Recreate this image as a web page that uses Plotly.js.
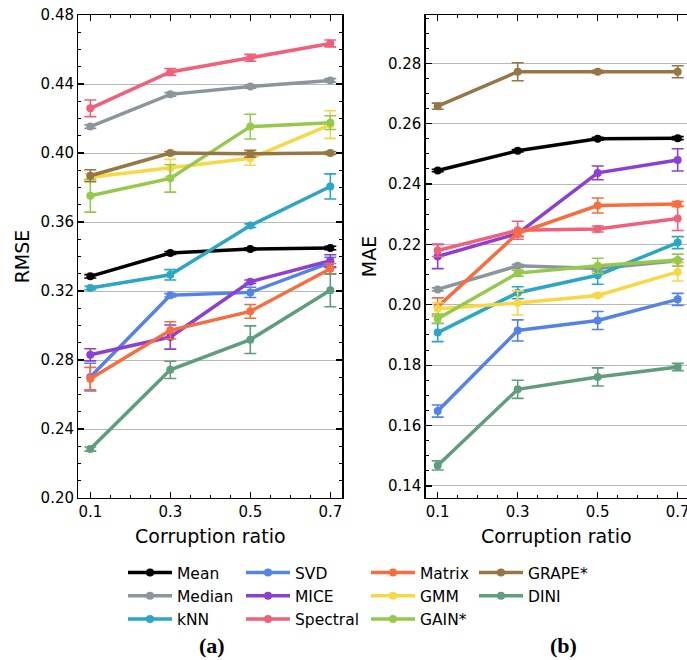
<!DOCTYPE html>
<html><head><meta charset="utf-8">
<script src="https://cdn.plot.ly/plotly-3.0.1.min.js"></script>
<style>html,body{margin:0;padding:0;background:#fff}#chart{width:687px;height:660px}</style>
</head><body><div id="chart"></div>
<script>
const ratios = [0.1, 0.3, 0.5, 0.7];
const methods = ["Mean","Median","kNN","SVD","MICE","Spectral","Matrix","GMM","GAIN*","GRAPE*","DINI"];
const colors = ["#000000","#8a959c","#2aa7c4","#5383e8","#8c3fd2","#f0607a","#fa6c3c","#f7d744","#95c94a","#967642","#5f9e7b"];

// RMSE (panel a)
const rmse_Mean     = [0.3285, 0.3420, 0.3443, 0.3449];
const rmse_Median   = [0.4153, 0.4340, 0.4386, 0.4421];
const rmse_kNN      = [0.3217, 0.3294, 0.3579, 0.3806];
const rmse_SVD      = [0.2701, 0.3175, 0.3192, 0.3365];
const rmse_MICE     = [0.2830, 0.2933, 0.3254, 0.3375];
const rmse_Spectral = [0.4259, 0.4470, 0.4552, 0.4635];
const rmse_Matrix   = [0.2692, 0.2972, 0.3082, 0.3329];
const rmse_GMM      = [0.3860, 0.3913, 0.3969, 0.4165];
const rmse_GAIN     = [0.3752, 0.3853, 0.4153, 0.4176];
const rmse_GRAPE    = [0.3868, 0.4000, 0.3996, 0.4000];
const rmse_DINI     = [0.2284, 0.2743, 0.2918, 0.3204];
// RMSE error bars
const rmseErr_Mean     = [0.0010, 0.0008, 0.0008, 0.0010];
const rmseErr_Median   = [0.0010, 0.0010, 0.0010, 0.0010];
const rmseErr_kNN      = [0.0010, 0.0030, 0.0010, 0.0073];
const rmseErr_SVD      = [0.0080, 0.0010, 0.0030, 0.0030];
const rmseErr_MICE     = [0.0035, 0.0070, 0.0010, 0.0035];
const rmseErr_Spectral = [0.0048, 0.0020, 0.0020, 0.0020];
const rmseErr_Matrix   = [0.0065, 0.0050, 0.0040, 0.0030];
const rmseErr_GMM      = [0.0020, 0.0050, 0.0040, 0.0080];
const rmseErr_GAIN     = [0.0095, 0.0080, 0.0072, 0.0040];
const rmseErr_GRAPE    = [0.0035, 0.0008, 0.0020, 0.0008];
const rmseErr_DINI     = [0.0012, 0.0050, 0.0080, 0.0095];

// MAE (panel b)
const mae_Mean     = [0.2445, 0.2510, 0.2550, 0.2552];
const mae_Median   = [0.2051, 0.2129, 0.2120, 0.2146];
const mae_kNN      = [0.1908, 0.2040, 0.2098, 0.2206];
const mae_SVD      = [0.1648, 0.1915, 0.1948, 0.2018];
const mae_MICE     = [0.2160, 0.2236, 0.2437, 0.2480];
const mae_Spectral = [0.2180, 0.2247, 0.2251, 0.2286];
const mae_Matrix   = [0.1993, 0.2237, 0.2329, 0.2334];
const mae_GMM      = [0.1987, 0.2006, 0.2031, 0.2109];
const mae_GAIN     = [0.1954, 0.2105, 0.2129, 0.2148];
const mae_GRAPE    = [0.2658, 0.2772, 0.2772, 0.2772];
const mae_DINI     = [0.1468, 0.1720, 0.1761, 0.1794];
// MAE error bars
const maeErr_Mean     = [0.0004, 0.0004, 0.0005, 0.0005];
const maeErr_Median   = [0.0005, 0.0005, 0.0008, 0.0005];
const maeErr_kNN      = [0.0030, 0.0020, 0.0030, 0.0020];
const maeErr_SVD      = [0.0020, 0.0035, 0.0030, 0.0020];
const maeErr_MICE     = [0.0040, 0.0010, 0.0023, 0.0037];
const maeErr_Spectral = [0.0020, 0.0030, 0.0010, 0.0040];
const maeErr_Matrix   = [0.0030, 0.0010, 0.0025, 0.0008];
const maeErr_GMM      = [0.0020, 0.0040, 0.0005, 0.0030];
const maeErr_GAIN     = [0.0015, 0.0010, 0.0025, 0.0020];
const maeErr_GRAPE    = [0.0010, 0.0030, 0.0005, 0.0020];
const maeErr_DINI     = [0.0015, 0.0030, 0.0030, 0.0012];

const rmseSeries = [rmse_Mean,rmse_Median,rmse_kNN,rmse_SVD,rmse_MICE,rmse_Spectral,rmse_Matrix,rmse_GMM,rmse_GAIN,rmse_GRAPE,rmse_DINI];
const rmseErrs = [rmseErr_Mean,rmseErr_Median,rmseErr_kNN,rmseErr_SVD,rmseErr_MICE,rmseErr_Spectral,rmseErr_Matrix,rmseErr_GMM,rmseErr_GAIN,rmseErr_GRAPE,rmseErr_DINI];
const maeSeries = [mae_Mean,mae_Median,mae_kNN,mae_SVD,mae_MICE,mae_Spectral,mae_Matrix,mae_GMM,mae_GAIN,mae_GRAPE,mae_DINI];
const maeErrs = [maeErr_Mean,maeErr_Median,maeErr_kNN,maeErr_SVD,maeErr_MICE,maeErr_Spectral,maeErr_Matrix,maeErr_GMM,maeErr_GAIN,maeErr_GRAPE,maeErr_DINI];

const legendOf = ["legend","legend","legend","legend2","legend2","legend2","legend3","legend3","legend3","legend4","legend4"];

const FONT = "DejaVu Sans";
const W = 687, H = 660;
const traces = [];
methods.forEach((m, i) => {
  traces.push({
    x: ratios, y: rmseSeries[i], name: m, type: "scatter", mode: "lines+markers",
    xaxis: "x", yaxis: "y", legend: legendOf[i],
    line: {color: colors[i], width: 3.5},
    marker: {color: colors[i], size: 8},
    error_y: {type: "data", array: rmseErrs[i], visible: true, color: colors[i], thickness: 1.6, width: 6}
  });
});
methods.forEach((m, i) => {
  traces.push({
    x: ratios, y: maeSeries[i], name: m, type: "scatter", mode: "lines+markers",
    xaxis: "x2", yaxis: "y2", showlegend: false,
    line: {color: colors[i], width: 3.5},
    marker: {color: colors[i], size: 8},
    error_y: {type: "data", array: maeErrs[i], visible: true, color: colors[i], thickness: 1.6, width: 6}
  });
});

const yDom = [1 - 498/H, 1 - 15/H];
const commonX = {
  range: [0.07, 0.73], tickvals: ratios, ticktext: ["0.1","0.3","0.5","0.7"],
  ticks: "inside", ticklen: 6, tickwidth: 1.2, tickcolor: "#000",
  showline: true, linecolor: "#000", linewidth: 1.3, mirror: "ticks",
  showgrid: false, zeroline: false, ticklabeloverflow: "allow",
  tickfont: {family: FONT, size: 15, color: "#000"},
  minor: {dtick: 0.05, tick0: 0.1, ticks: "inside", ticklen: 3, tickcolor: "#000", tickwidth: 1, showgrid: false},
  title: {text: "Corruption ratio", font: {family: FONT, size: 19, color: "#000"}, standoff: 9}
};
const layout = {
  width: W, height: H, margin: {l: 0, r: 0, t: 0, b: 0},
  paper_bgcolor: "#fff", plot_bgcolor: "#fff",
  font: {family: FONT, color: "#000"},
  xaxis: Object.assign({}, commonX, {domain: [78.3/W, 342.3/W], anchor: "y"}),
  xaxis2: Object.assign({}, commonX, {domain: [425.7/W, 1], anchor: "y2", range: [0.07, 0.07 + (687-425.7)/400]}),
  yaxis: {
    domain: yDom, anchor: "x", range: [0.20, 0.48], dtick: 0.04, tick0: 0.2, tickformat: ".2f",
    ticks: "inside", ticklen: 6, tickwidth: 1.2, tickcolor: "#000",
    showline: true, linecolor: "#000", linewidth: 1.3, mirror: "ticks",
    showgrid: true, gridcolor: "#b8b8b8", gridwidth: 1, zeroline: false,
    tickfont: {family: FONT, size: 15, color: "#000"},
    minor: {dtick: 0.01, ticks: "inside", ticklen: 3, tickcolor: "#000", tickwidth: 1, showgrid: false},
    title: {text: "RMSE", font: {family: FONT, size: 19, color: "#000"}, standoff: 6}
  },
  yaxis2: {
    domain: yDom, anchor: "x2", range: [0.136, 0.296], dtick: 0.02, tick0: 0.14, tickformat: ".2f",
    ticks: "inside", ticklen: 6, tickwidth: 1.2, tickcolor: "#000",
    showline: true, linecolor: "#000", linewidth: 1.3, mirror: false,
    showgrid: true, gridcolor: "#b8b8b8", gridwidth: 1, zeroline: false,
    tickfont: {family: FONT, size: 15, color: "#000"},
    minor: {dtick: 0.005, ticks: "inside", ticklen: 3, tickcolor: "#000", tickwidth: 1, showgrid: false},
    title: {text: "MAE", font: {family: FONT, size: 19, color: "#000"}, standoff: 6}
  },
  annotations: [
    {text: "<b>(a)</b>", x: 212/W, y: 1 - 645/H, xref: "paper", yref: "paper", showarrow: false,
     xanchor: "center", yanchor: "middle", font: {family: "Liberation Serif", size: 22, color: "#000"}},
    {text: "<b>(b)</b>", x: 563/W, y: 1 - 645/H, xref: "paper", yref: "paper", showarrow: false,
     xanchor: "center", yanchor: "middle", font: {family: "Liberation Serif", size: 22, color: "#000"}}
  ]
};
const legBase = {orientation: "v", xanchor: "left", yanchor: "top", y: 1 - 556/H,
  bgcolor: "rgba(0,0,0,0)", borderwidth: 0, itemwidth: 44,
  font: {family: FONT, size: 15.5, color: "#000"}, tracegroupgap: 0, traceorder: "normal"};
layout.legend  = Object.assign({}, legBase, {x: 123/W});
layout.legend2 = Object.assign({}, legBase, {x: 241/W});
layout.legend3 = Object.assign({}, legBase, {x: 366/W});
layout.legend4 = Object.assign({}, legBase, {x: 474/W});

Plotly.newPlot("chart", traces, layout, {displayModeBar: false, staticPlot: true});
</script></body></html>
